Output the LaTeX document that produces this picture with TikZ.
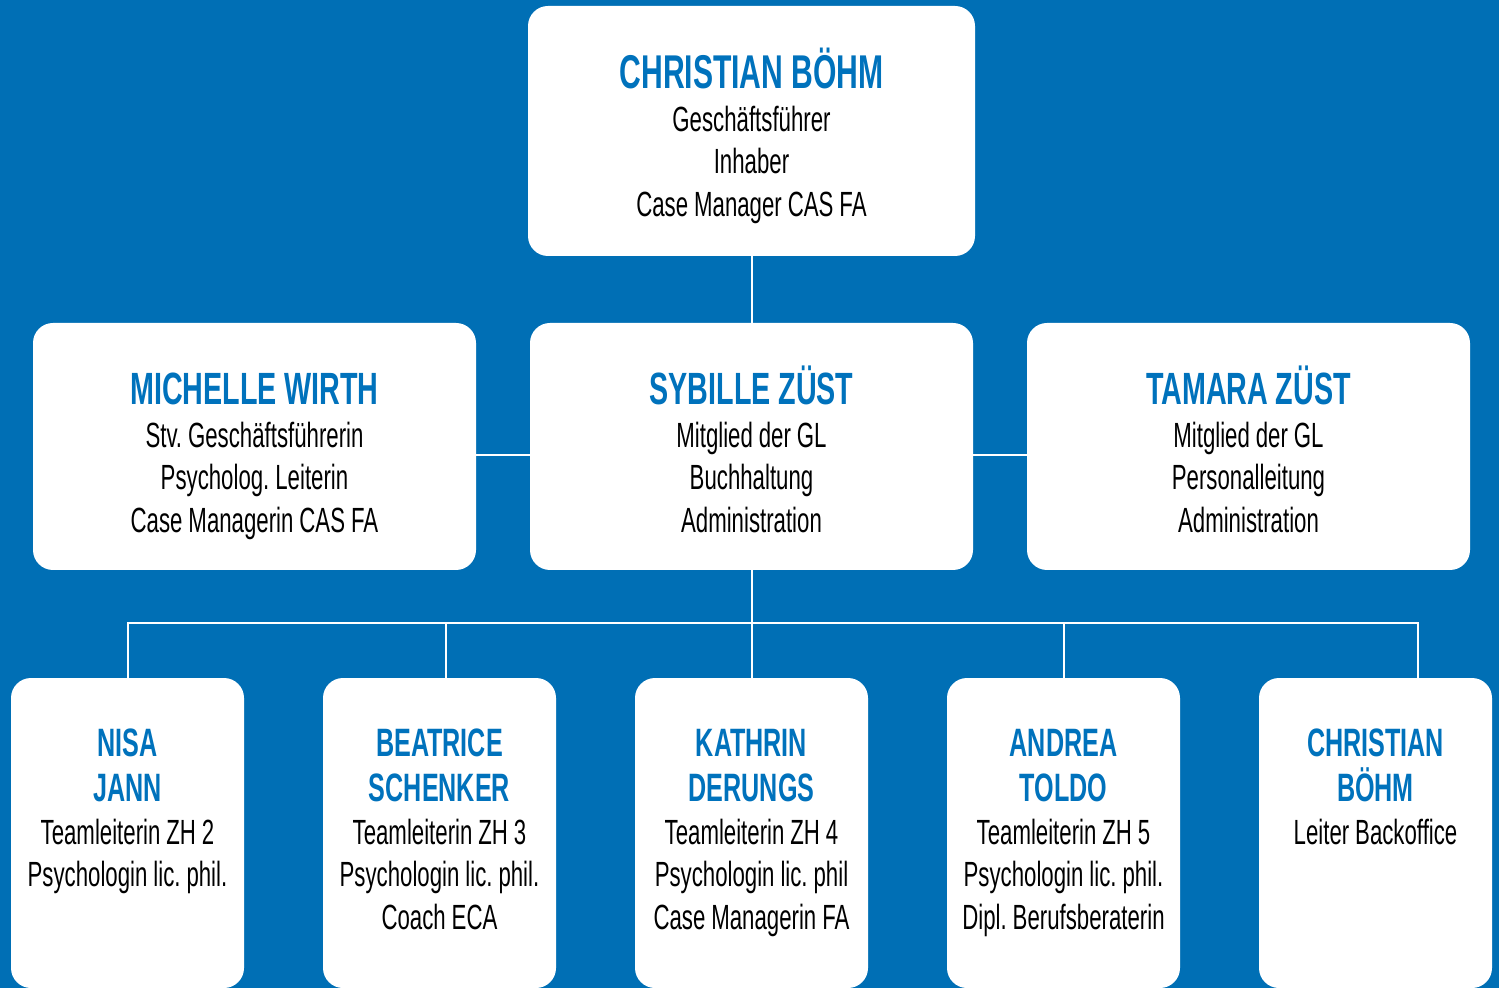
\documentclass[tikz,border=0pt]{standalone}
\usepackage{fontspec}
\setmainfont{Liberation Sans}[FakeStretch=0.635]
\usetikzlibrary{positioning}
\definecolor{orgblue}{RGB}{0,111,181}
\definecolor{nameblue}{RGB}{0,114,188}
% narrow word spaces for the condensed face
\newcommand\tightspace{\spaceskip=0.17em\relax\xspaceskip=0.17em\relax}
\tikzset{
  box/.style={fill=white,rounded corners=10pt,inner sep=0pt},
  upper/.style={box,minimum width=221.5pt,minimum height=123.5pt},
  lower/.style={box,minimum width=116.5pt,minimum height=155pt},
  txt/.style={inner sep=0pt,align=center,text width=200pt,
    font=\fontsize{17.5}{21.2}\selectfont},
  link/.style={white,line width=1pt}
}
% name lines in blue, then the job titles
\newcommand\who[2]{{\leavevmode\fontsize{#1}{22.5}\selectfont\bfseries\tightspace
  \color{nameblue}\rule{0pt}{1.1em}#2\par}\tightspace}

\begin{document}
\begin{tikzpicture}[x=0.5pt,y=-0.5pt]
\useasboundingbox (0,0) rectangle (1499,988);
\fill[orgblue] (0,0) rectangle (1499,988);

% management
\node[box,minimum width=223.5pt,minimum height=125pt] (top) at (751.5,131) {};
\node[txt,below=15.4pt of top.north]
  (ttop) {\who{23.7}{CHRISTIAN BÖHM}Geschäftsführer\\Inhaber\\Case Manager CAS FA};

\node[upper] (left)  at (254.5,446.5) {};
\node[upper] (mid)   at (751.5,446.5) {};
\node[upper] (right) at (1248.5,446.5) {};
\node[txt,below=16.1pt of left.north]
  (tleft) {\who{22.6}{MICHELLE WIRTH}Stv. Geschäftsführerin\\Psycholog. Leiterin\\Case Managerin CAS FA};
\node[txt,below=16.1pt of mid.north]
  (tmid) {\who{22.6}{SYBILLE ZÜST}Mitglied der GL\\Buchhaltung\\Administration};
\node[txt,below=16.1pt of right.north]
  (tright) {\who{22.6}{TAMARA ZÜST}Mitglied der GL\\Personalleitung\\Administration};

% teams
\node[lower] (b1) at (127.5,833) {};
\node[lower] (b2) at (439.5,833) {};
\node[lower] (b3) at (751.5,833) {};
\node[lower] (b4) at (1063.5,833) {};
\node[lower] (b5) at (1375.5,833) {};
\node[txt,below=17.7pt of b1.north]
  (tb1) {\who{19.8}{NISA\\JANN}Teamleiterin ZH 2\\Psychologin lic. phil.};
\node[txt,below=17.7pt of b2.north]
  (tb2) {\who{19.8}{BEATRICE\\SCHENKER}Teamleiterin ZH 3\\Psychologin lic. phil.\\Coach ECA};
\node[txt,below=17.7pt of b3.north]
  (tb3) {\who{19.8}{KATHRIN\\DERUNGS}Teamleiterin ZH 4\\Psychologin lic. phil\\Case Managerin FA};
\node[txt,below=17.7pt of b4.north]
  (tb4) {\who{19.8}{ANDREA\\TOLDO}Teamleiterin ZH 5\\Psychologin lic. phil.\\Dipl. Berufsberaterin};
\node[txt,below=17.7pt of b5.north]
  (tb5) {\who{19.8}{CHRISTIAN\\BÖHM}Leiter Backoffice};

% connectors
\coordinate (bus) at (751.5,623);
\draw[link] (top.south) -- (mid.north);
\draw[link] ([yshift=-4.5pt]left.east) -- ([yshift=-4.5pt]mid.west);
\draw[link] ([yshift=-4.5pt]mid.east) -- ([yshift=-4.5pt]right.west);
\draw[link] (mid.south) -- (bus);
\draw[link] (b1.north) |- (bus) -| ([xshift=21.25pt]b5.north);
\draw[link] ([xshift=3.25pt]b2.north) -- ([xshift=3.25pt]b2.north |- bus);
\draw[link] (b3.north) -- (bus);
\draw[link] (b4.north) -- (b4.north |- bus);
\end{tikzpicture}
\end{document}
